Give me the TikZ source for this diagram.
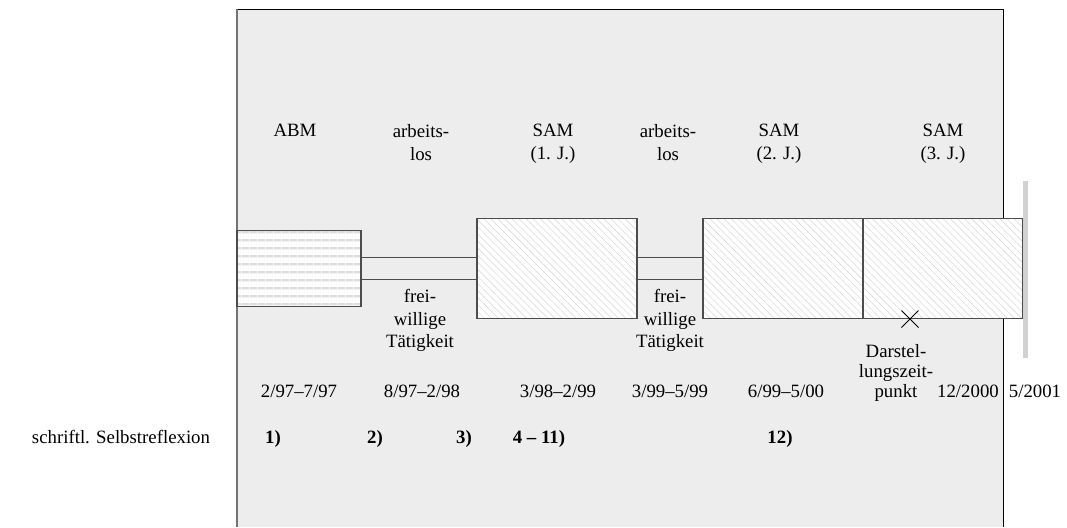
\documentclass[tikz,border=0pt]{standalone}
\usepackage{fontspec}
\setmainfont{Liberation Serif}
\usetikzlibrary{patterns.meta,shapes.misc}

\tikzset{
  lbl/.style={align=center, inner sep=0pt, font=\fontsize{9.4}{11.4}\selectfont},
  lblbold/.style={lbl, font=\fontsize{9.4}{11.4}\selectfont\bfseries},
  boxline/.style={draw=black!70, line width=0.6pt},
  abmbox/.style={boxline, rectangle, inner sep=0pt, preaction={fill=white},
    pattern={Lines[angle=0, distance=3.85pt, line width=1.1pt]}, pattern color=black!13},
  sambox/.style={boxline, rectangle, inner sep=0pt, preaction={fill=white},
    pattern={Lines[angle=-45, distance=2.5pt, line width=0.3pt]}, pattern color=black!14},
  bar/.style={draw=black!70, line width=0.6pt}
}

\begin{document}
\begin{tikzpicture}[x=0.5pt, y=-0.5pt]
  \useasboundingbox (0,0) rectangle (1067,527);

  % grey panel
  \fill[black!7] (237,9) rectangle (1003,527);
  \draw[black, line width=0.5pt] (237,9) -- (1003,9) -- (1003,527);
  \draw[black!55, line width=1pt] (237,9) -- (237,527);

  % end of period
  \draw[line width=2.5pt, black!18] (1025,181) -- (1025,358);

  % phases
  \node[abmbox, minimum width=62pt, minimum height=38pt] (abm) at (299,268.5) {};
  \node[sambox, minimum width=80pt, minimum height=50pt] (sam1) at (557,268.5) {};
  \node[sambox, minimum width=80pt, minimum height=50pt] (sam2) at (783,268.5) {};
  \node[sambox, minimum width=79.5pt, minimum height=50pt] (sam3) at (942.75,268.5) {};

  % unemployed: parallel bars
  \draw[bar] ([yshift=5.5pt]abm.east) -- ([yshift=5.5pt]abm.east -| sam1.west);
  \draw[bar] ([yshift=-5.5pt]abm.east) -- ([yshift=-5.5pt]abm.east -| sam1.west);
  \draw[bar] ([yshift=5.5pt]sam1.east) -- ([yshift=5.5pt]sam2.west);
  \draw[bar] ([yshift=-5.5pt]sam1.east) -- ([yshift=-5.5pt]sam2.west);

  % point of presentation
  \node[cross out, draw=black, line width=0.5pt, minimum size=8pt, inner sep=0pt] (zeitpunkt) at (910,319) {};

  % labels above
  \node[lbl, anchor=north] (tabm) at (295,124) {ABM};
  \node[lbl, anchor=north] (tlos1) at (421,124) {arbeits-\\los};
  \node[lbl, anchor=north] (tsam1) at (553,124) {SAM\\(1. J.)};
  \node[lbl, anchor=north] (tlos2) at (668,124) {arbeits-\\los};
  \node[lbl, anchor=north] (tsam2) at (779,124) {SAM\\(2. J.)};
  \node[lbl, anchor=north] (tsam3) at (943,124) {SAM\\(3. J.)};

  % labels below
  \node[lbl, anchor=north, font=\fontsize{9.4}{11.2}\selectfont] (frei1) at (420,289) {frei-\\willige\\Tätigkeit};
  \node[lbl, anchor=north, font=\fontsize{9.4}{11.2}\selectfont] (frei2) at (670,289) {frei-\\willige\\Tätigkeit};
  \node[lbl, anchor=north, font=\fontsize{9.4}{10}\selectfont] (darst) at (896,344) {Darstel-\\lungszeit-\\punkt};

  % dates
  \node[lbl, anchor=base] (d1) at (299,397) {2/97--7/97};
  \node[lbl, anchor=base] (d2) at (422,397) {8/97--2/98};
  \node[lbl, anchor=base] (d3) at (558,397) {3/98--2/99};
  \node[lbl, anchor=base] (d4) at (670,397) {3/99--5/99};
  \node[lbl, anchor=base] (d5) at (786,397) {6/99--5/00};
  \node[lbl, anchor=base] (d6) at (968,397) {12/2000};
  \node[lbl, anchor=base] (d7) at (1035,397) {5/2001};

  % written reflections
  \node[lbl, anchor=base] (refl) at (121,443) {schriftl. Selbstreflexion};
  \node[lblbold, anchor=base] (r1) at (273,443) {1)};
  \node[lblbold, anchor=base] (r2) at (375,443) {2)};
  \node[lblbold, anchor=base] (r3) at (464,443) {3)};
  \node[lblbold, anchor=base] (r4) at (539,443) {4 -- 11)};
  \node[lblbold, anchor=base] (r12) at (780,443) {12)};
\end{tikzpicture}
\end{document}
